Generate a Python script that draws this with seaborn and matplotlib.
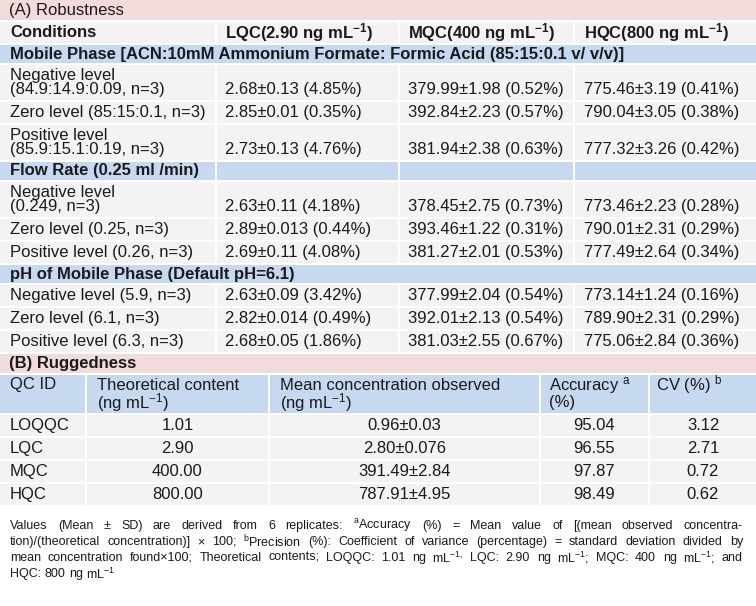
import matplotlib
matplotlib.use("Agg")
import matplotlib.pyplot as plt
import seaborn as sns
from matplotlib.patches import Rectangle

# ---- table content ----
title_a = "(A) Robustness"
title_b = "(B) Ruggedness"
header_a = ["Conditions",
            r"LQC(2.90 ng mL$^{\mathbf{-1}}$)",
            r"MQC(400 ng mL$^{\mathbf{-1}}$)",
            r"HQC(800 ng mL$^{\mathbf{-1}}$)"]
groups = ["Mobile Phase [ACN:10mM Ammonium Formate: Formic Acid (85:15:0.1 v/ v/v)]",
          "Flow Rate (0.25 ml /min)",
          "pH of Mobile Phase (Default pH=6.1)"]
group_split = [False, True, False]   # flow-rate band is split into column cells
conditions = [
    ["Negative level\n(84.9:14.9:0.09, n=3)", "Zero level (85:15:0.1, n=3)",
     "Positive level\n(85.9:15.1:0.19, n=3)"],
    ["Negative level\n(0.249, n=3)", "Zero level (0.25, n=3)", "Positive level (0.26, n=3)"],
    ["Negative level (5.9, n=3)", "Zero level (6.1, n=3)", "Positive level (6.3, n=3)"],
]
lqc = [["2.68±0.13 (4.85%)", "2.85±0.01 (0.35%)", "2.73±0.13 (4.76%)"],
       ["2.63±0.11 (4.18%)", "2.89±0.013 (0.44%)", "2.69±0.11 (4.08%)"],
       ["2.63±0.09 (3.42%)", "2.82±0.014 (0.49%)", "2.68±0.05 (1.86%)"]]
mqc = [["379.99±1.98 (0.52%)", "392.84±2.23 (0.57%)", "381.94±2.38 (0.63%)"],
       ["378.45±2.75 (0.73%)", "393.46±1.22 (0.31%)", "381.27±2.01 (0.53%)"],
       ["377.99±2.04 (0.54%)", "392.01±2.13 (0.54%)", "381.03±2.55 (0.67%)"]]
hqc = [["775.46±3.19 (0.41%)", "790.04±3.05 (0.38%)", "777.32±3.26 (0.42%)"],
       ["773.46±2.23 (0.28%)", "790.01±2.31 (0.29%)", "777.49±2.64 (0.34%)"],
       ["773.14±1.24 (0.16%)", "789.90±2.31 (0.29%)", "775.06±2.84 (0.36%)"]]

header_b = [["QC ID", ""],
            ["Theoretical content", r"(ng mL$^{-1}$)"],
            ["Mean concentration observed", r"(ng mL$^{-1}$)"],
            [r"Accuracy $^{\mathrm{a}}$", "(%)"],
            [r"CV (%) $^{\mathrm{b}}$", ""]]
qc_id = ["LOQQC", "LQC", "MQC", "HQC"]
theoretical = ["1.01", "2.90", "400.00", "800.00"]
mean_obs = ["0.96±0.03", "2.80±0.076", "391.49±2.84", "787.91±4.95"]
accuracy = ["95.04", "96.55", "97.87", "98.49"]
cv = ["3.12", "2.71", "0.72", "0.62"]

footnote = [
    r"Values (Mean ± SD) are derived from 6 replicates: $^{\mathrm{a}}$Accuracy (%) = Mean value of [(mean observed concentra-",
    r"tion)/(theoretical concentration)] × 100; $^{\mathrm{b}}$Precision (%): Coefficient of variance (percentage) = standard deviation divided by",
    r"mean concentration found×100; Theoretical contents; LOQQC: 1.01 ng mL$^{-1,}$ LQC: 2.90 ng mL$^{-1}$; MQC: 400 ng mL$^{-1}$; and",
    r"HQC: 800 ng mL$^{-1}$",
]

# ---- style ----
sns.set_theme(style="white")
plt.rcParams["font.family"] = ["Liberation Sans", "DejaVu Sans"]
plt.rcParams["mathtext.fontset"] = "custom"
plt.rcParams["mathtext.rm"] = "Liberation Sans"
plt.rcParams["mathtext.it"] = "Liberation Sans:italic"
plt.rcParams["mathtext.bf"] = "Liberation Sans:bold"

pink = "#f2dcdb"
blue = "#c6d9f1"
grey = "#f3f3f3"
ink = "#1a1a1a"
W = 756
FS = 12
FS_NOTE = 9

fig = plt.figure(figsize=(7.56, 6.06), dpi=100)
ax = fig.add_axes([0, 0, 1, 1])
ax.set_xlim(0, W)
ax.set_ylim(606, 0)
ax.axis("off")

cols_a = [(0, 215), (217, 398), (400, 573), (575, W)]
text_x_a = [10, 225, 408, 584]
cols_b = [(0, 85), (87, 268), (270, 539), (541, 648), (650, W)]
text_x_b = [10, 97, 280, 549, 656]


def cell(x0, x1, y, h, color):
    ax.add_patch(Rectangle((x0, y), x1 - x0, h, facecolor=color, edgecolor="none"))


def txt(x, y, s, bold=False, ha="left", size=FS):
    ax.text(x, y, s, ha=ha, va="center", fontsize=size, color=ink,
            fontweight="bold" if bold else "normal")


GAP = 2
H1 = 21      # single-line row
H2 = 35      # two-line row
HB = 18      # section band
y = 0
# (A) title
cell(0, W, y, 20, pink)
txt(9, y + 10, title_a)
y += 20 + GAP

# header row
for (x0, x1), tx, lab in zip(cols_a, text_x_a, header_a):
    cell(x0, x1, y, H1, grey)
    txt(tx, y + 10.5, lab, bold=True)
y += H1 + GAP

for g, grp in enumerate(groups):
    if group_split[g]:
        for x0, x1 in cols_a:
            cell(x0, x1, y, HB, blue)
    else:
        cell(0, W, y, HB, blue)
    txt(10, y + 9, grp, bold=True)
    y += HB + GAP
    for r, cond in enumerate(conditions[g]):
        two = "\n" in cond
        h = H2 if two else H1
        for x0, x1 in cols_a:
            cell(x0, x1, y, h, grey)
        if two:
            l1, l2 = cond.split("\n")
            txt(10, y + 10.5, l1)
            txt(10, y + 24.5, l2)
            vy = y + 24.5
        else:
            txt(10, y + 10.5, cond)
            vy = y + 10.5
        txt(text_x_a[1], vy, lqc[g][r])
        txt(text_x_a[2], vy, mqc[g][r])
        txt(text_x_a[3], vy, hqc[g][r])
        y += h + GAP

# (B) title
cell(0, W, y, 19, pink)
txt(9, y + 9.5, title_b, bold=True)
y += 19 + GAP

for (x0, x1), tx, (l1, l2) in zip(cols_b, text_x_b, header_b):
    cell(x0, x1, y, 38, blue)
    txt(tx, y + 10, l1)
    if l2:
        txt(tx, y + 28, l2)
y += 38 + GAP

for i in range(len(qc_id)):
    for x0, x1 in cols_b:
        cell(x0, x1, y, H1, grey)
    txt(10, y + 10.5, qc_id[i])
    row = [theoretical[i], mean_obs[i], accuracy[i], cv[i]]
    for (x0, x1), s in zip(cols_b[1:], row):
        txt((x0 + x1) / 2, y + 10.5, s, ha="center")
    y += H1 + GAP

# footnote, justified except the last line
fig.canvas.draw()
renderer = fig.canvas.get_renderer()
left, right = 10, 743
ny = y + 19
for k, line in enumerate(footnote):
    words = line.split(" ")
    objs = [ax.text(0, ny, w, ha="left", va="center", fontsize=FS_NOTE, color=ink) for w in words]
    widths = [o.get_window_extent(renderer).width for o in objs]
    space = ax.text(0, ny, "a a", fontsize=FS_NOTE).get_window_extent(renderer).width \
        - 2 * ax.text(0, ny, "a", fontsize=FS_NOTE).get_window_extent(renderer).width
    for t in ax.texts[-2:]:
        t.remove()
    if k < len(footnote) - 1 and len(words) > 1:
        gap = (right - left - sum(widths)) / (len(words) - 1)
    else:
        gap = space
    x = left
    for o, w in zip(objs, widths):
        o.set_x(x)
        x += w + gap
    ny += 16

fig.savefig("out.png", dpi=100)
